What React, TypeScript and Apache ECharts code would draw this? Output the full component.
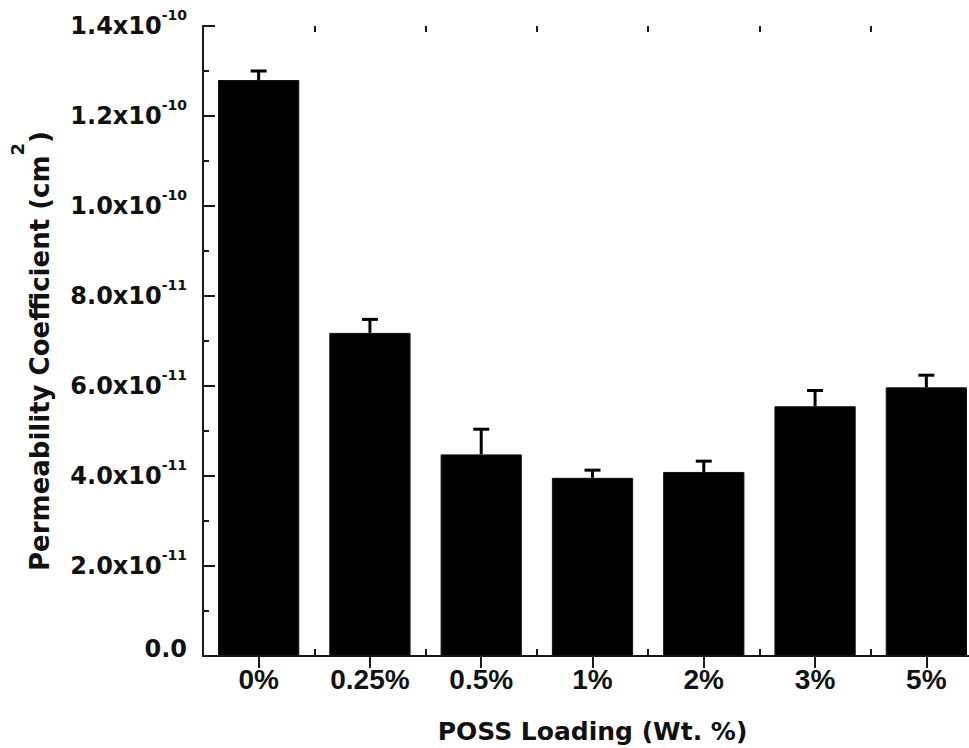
import React, { useEffect, useRef } from "react";
import * as echarts from "echarts";

const categories = ["0%", "0.25%", "0.5%", "1%", "2%", "3%", "5%"];
const permeability = [1.28e-10, 7.18e-11, 4.48e-11, 3.96e-11, 4.09e-11, 5.55e-11, 5.97e-11];
const errors = [2.0e-12, 3.0e-12, 5.6e-12, 1.7e-12, 2.4e-12, 3.5e-12, 2.7e-12];
const yMin = 0;
const yMax = 1.4e-10;
const yInterval = 2e-11;
const xTitle = "POSS Loading (Wt. %)";

const AXIS_COLOR = "#1a1a1a";
const TITLE_FONT = "'DejaVu Sans', sans-serif";
const LABEL_FONT = "'Liberation Sans', Arial, sans-serif";

function formatSci(v: number): string {
  if (Math.abs(v) < 1e-20) return "{z|0.0}";
  const exp = Math.floor(Math.log10(Math.abs(v)) + 1e-9);
  const mant = v / Math.pow(10, exp);
  return `{m|${mant.toFixed(1)}x10}{s|${exp}}`;
}

export default function App() {
  const ref = useRef<HTMLDivElement>(null);
  useEffect(() => {
    if (!ref.current) return;
    const chart = echarts.init(ref.current, null, { renderer: "svg" });
    const yAxisCommon = {
      type: "value",
      min: yMin,
      max: yMax,
      interval: yInterval,
      splitLine: { show: false },
      axisLine: { show: true, lineStyle: { color: AXIS_COLOR, width: 2 } },
      axisTick: { show: true, inside: true, length: 12, lineStyle: { color: AXIS_COLOR, width: 2 } },
      minorTick: { show: true, splitNumber: 2, length: 6, lineStyle: { color: AXIS_COLOR, width: 2 } },
    };
    chart.setOption({
      animation: false,
      backgroundColor: "#ffffff",
      grid: {
        left: 203,
        width: 779,
        top: 26,
        bottom: 92,
        containLabel: false,
        outerBoundsMode: "none",
      },
      xAxis: [
        {
          type: "category",
          data: categories,
          position: "bottom",
          name: xTitle,
          nameLocation: "middle",
          nameGap: 63,
          nameTextStyle: { fontFamily: TITLE_FONT, fontWeight: "bold", fontSize: 25, color: "#111" },
          axisLine: { show: true, lineStyle: { color: AXIS_COLOR, width: 2 } },
          axisTick: { show: true, inside: true, length: 7, lineStyle: { color: AXIS_COLOR, width: 2 } },
          axisLabel: {
            margin: 9,
            fontFamily: LABEL_FONT,
            fontWeight: "bold",
            fontSize: 28,
            color: "#111",
          },
          splitLine: { show: false },
        },
        {
          type: "category",
          data: categories,
          position: "top",
          axisLine: { show: true, lineStyle: { color: AXIS_COLOR, width: 2 } },
          axisTick: { show: true, inside: true, alignWithLabel: true, length: 12, lineStyle: { color: AXIS_COLOR, width: 2 } },
          axisLabel: { show: false },
          splitLine: { show: false },
        },
        {
          type: "category",
          data: categories,
          position: "top",
          axisLine: { show: false },
          axisTick: { show: true, inside: true, length: 6, lineStyle: { color: AXIS_COLOR, width: 2 } },
          axisLabel: { show: false },
          splitLine: { show: false },
        },
      ],
      yAxis: [
        {
          ...yAxisCommon,
          position: "left",
          axisLabel: {
            show: true,
            margin: 16,
            formatter: (v: number) => formatSci(v),
            rich: {
              m: {
                fontFamily: TITLE_FONT,
                fontWeight: "bold",
                fontSize: 24,
                lineHeight: 36,
                color: "#111",
                verticalAlign: "middle",
              },
              s: {
                fontFamily: TITLE_FONT,
                fontWeight: "bold",
                fontSize: 14,
                lineHeight: 14,
                color: "#111",
                verticalAlign: "top",
              },
              z: {
                fontFamily: TITLE_FONT,
                fontWeight: "bold",
                fontSize: 24,
                lineHeight: 24,
                color: "#111",
                padding: [0, 0, 14, 0],
              },
            },
          },
        },
        {
          ...yAxisCommon,
          position: "right",
          axisLabel: { show: false },
        },
      ],
      series: [
        {
          type: "bar",
          xAxisIndex: 0,
          yAxisIndex: 0,
          data: permeability,
          barWidth: "73%",
          itemStyle: { color: "#000000", borderColor: "#111", borderWidth: 1 },
          z: 2,
        },
        {
          type: "custom",
          xAxisIndex: 0,
          yAxisIndex: 0,
          z: 3,
          data: categories.map((c, i) => [i, permeability[i], errors[i]]),
          encode: { x: 0, y: 1 },
          renderItem: (params: any, api: any) => {
            const i = api.value(0);
            const v = api.value(1);
            const e = api.value(2);
            const base = api.coord([i, v]);
            const top = api.coord([i, v + e]);
            return {
              type: "group",
              children: [
                {
                  type: "line",
                  shape: { x1: base[0], y1: base[1], x2: top[0], y2: top[1] },
                  style: { stroke: "#000", lineWidth: 3 },
                },
                {
                  type: "line",
                  shape: { x1: top[0] - 8, y1: top[1], x2: top[0] + 8, y2: top[1] },
                  style: { stroke: "#000", lineWidth: 3 },
                },
              ],
            };
          },
        },
      ],
      graphic: [
        {
          type: "text",
          x: 30.5,
          y: 351,
          rotation: Math.PI / 2,
          style: {
            text: "{t|Permeability Coefficient (cm}{s|2}{t|)}",
            align: "center",
            verticalAlign: "middle",
            rich: {
              t: {
                fontFamily: TITLE_FONT,
                fontWeight: "bold",
                fontSize: 26,
                lineHeight: 44,
                fill: "#111",
                verticalAlign: "bottom",
              },
              s: {
                fontFamily: TITLE_FONT,
                fontWeight: "bold",
                fontSize: 18,
                lineHeight: 18,
                fill: "#111",
                verticalAlign: "top",
              },
            },
          },
        },
      ],
    });
    return () => chart.dispose();
  }, []);
  return (
    <div
      ref={ref}
      style={{ position: "fixed", left: 0, top: 0, width: 969, height: 748, background: "#fff" }}
    />
  );
}
